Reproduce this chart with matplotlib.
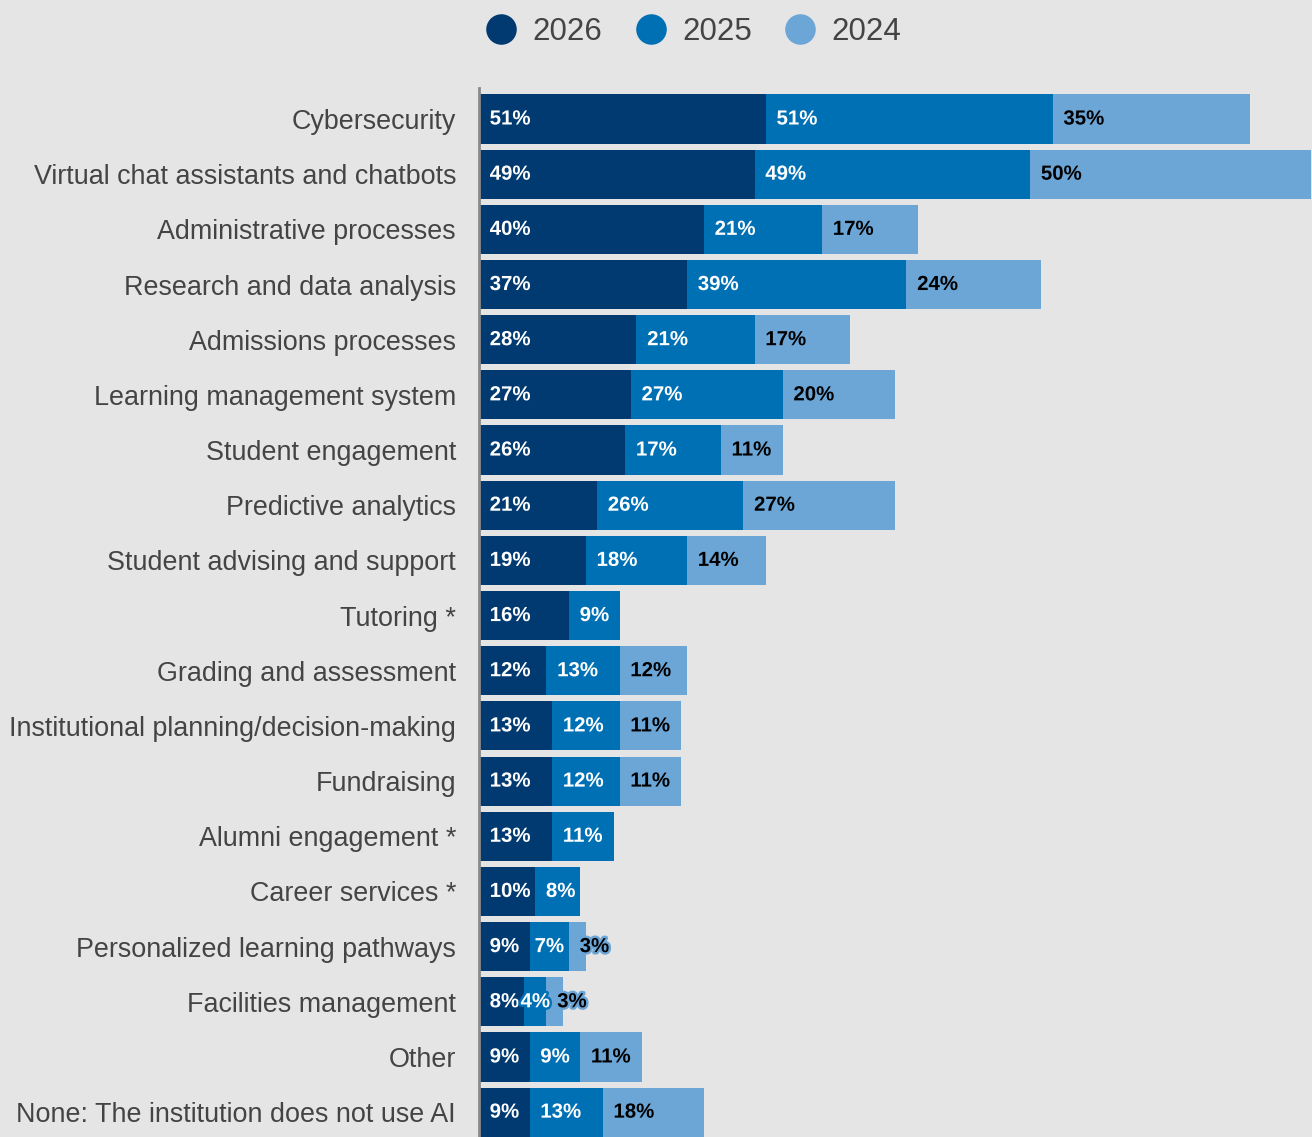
import numpy as np
import matplotlib
matplotlib.use("Agg")
import matplotlib.pyplot as plt
from matplotlib.lines import Line2D
import matplotlib.patheffects as pe

plt.rcParams['font.family'] = ['Liberation Sans', 'DejaVu Sans']

categories = [
    "Cybersecurity",
    "Virtual chat assistants and chatbots",
    "Administrative processes",
    "Research and data analysis",
    "Admissions processes",
    "Learning management system",
    "Student engagement",
    "Predictive analytics",
    "Student advising and support",
    "Tutoring *",
    "Grading and assessment",
    "Institutional planning/decision-making",
    "Fundraising",
    "Alumni engagement *",
    "Career services *",
    "Personalized learning pathways",
    "Facilities management",
    "Other",
    "None: The institution does not use AI",
]
y2026 = [51, 49, 40, 37, 28, 27, 26, 21, 19, 16, 12, 13, 13, 13, 10, 9, 8, 9, 9]
y2025 = [51, 49, 21, 39, 21, 27, 17, 26, 18, 9, 13, 12, 12, 11, 8, 7, 4, 9, 13]
y2024 = [35, 50, 17, 24, 17, 20, 11, 27, 14, None, 12, 11, 11, None, None, 3, 3, 11, 18]

series = [("2026", y2026, "#013a71", "white"),
          ("2025", y2025, "#0070b5", "white"),
          ("2024", y2024, "#6ba6d7", "black")]

bg = "#e5e5e5"
fig = plt.figure(figsize=(13.12, 11.37), dpi=100, facecolor=bg)
ax = fig.add_axes([479 / 1312, -0.0024, 1 - 479 / 1312, 0.922])
ax.set_facecolor(bg)

y = np.arange(len(categories))
left = np.zeros(len(categories))
for k, (name, vals, color, tcolor) in enumerate(series):
    v = np.array([np.nan if x is None else x for x in vals], dtype=float)
    w = np.nan_to_num(v)
    ax.barh(y, w, left=left, height=0.89, color=color, edgecolor="none")
    last = k == len(series) - 1
    for i in range(len(categories)):
        if np.isnan(v[i]):
            continue
        # narrow inner segments get a centred label
        if not last and w[i] <= 7:
            x, ha = left[i] + w[i] / 2, "center"
        else:
            x, ha = left[i] + 1.9, "left"
        ax.text(x, y[i], f"{int(v[i])}%", va="center", ha=ha,
                fontsize=14.7, fontweight="bold", color=tcolor,
                path_effects=[pe.withStroke(linewidth=3.5, foreground=color)])
    left += w

ax.set_xlim(0, 148.1)
ax.set_ylim(len(categories) - 0.5, -0.5)
ax.set_yticks(y)
ax.set_yticklabels(categories, fontsize=19.4, color="#444444")
ax.tick_params(axis="y", length=0, pad=16.5)
ax.set_xticks([])
for s in ["top", "right", "bottom"]:
    ax.spines[s].set_visible(False)
ax.spines["left"].set_color("#8a8a8a")
ax.spines["left"].set_linewidth(2)
ax.spines["left"].set_bounds(-0.56, len(categories) - 0.5)

handles = [Line2D([], [], marker="o", linestyle="none", markersize=22,
                  markerfacecolor=c, markeredgecolor="none", label=n)
           for n, _, c, _ in series]
fig.legend(handles=handles, loc="upper center", bbox_to_anchor=(0.5286, 1.010),
           ncol=3, frameon=False, fontsize=22.5, labelcolor="#444444",
           handlelength=1.0, handletextpad=0.5, columnspacing=1.05)

fig.savefig("out.png", dpi=100, facecolor=bg)
